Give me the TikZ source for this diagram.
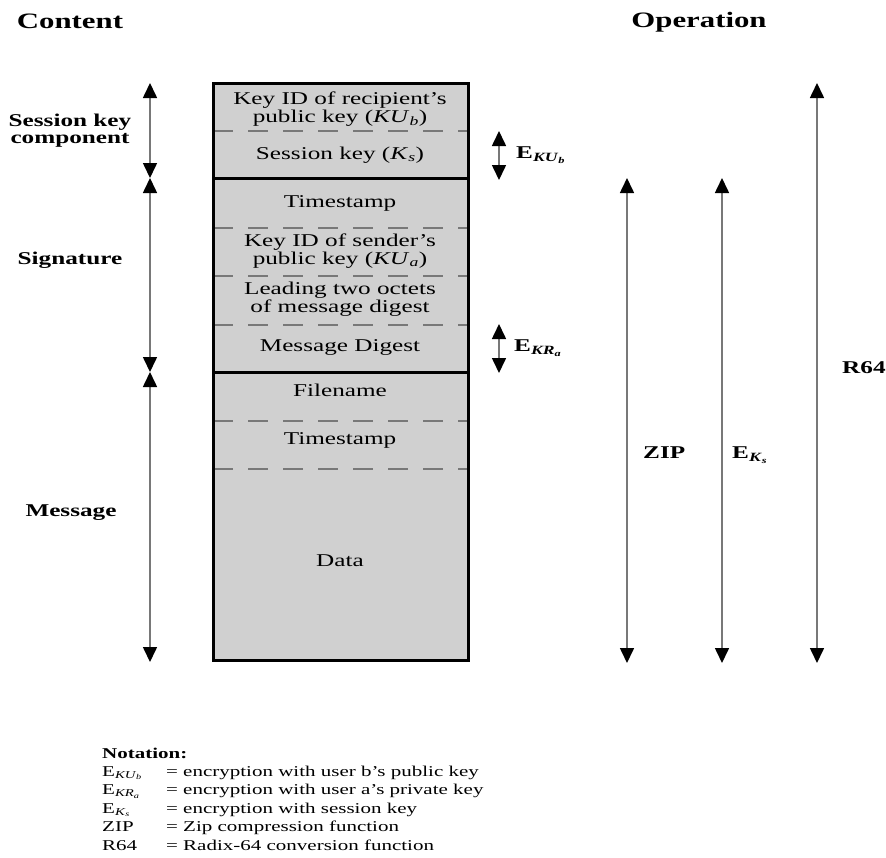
\documentclass[tikz,border=0pt]{standalone}
\usepackage{fontspec}
\setmainfont{Liberation Serif}[FakeStretch=1.4]
\usetikzlibrary{arrows.meta}
\definecolor{boxgray}{RGB}{208,208,208}
\definecolor{linegray}{RGB}{120,120,120}
\newcommand{\fs}[1]{\fontsize{#1}{#1}\selectfont}
\begin{document}
\begin{tikzpicture}[x=1pt,y=-1pt,
  boxtext/.style={font=\fs{18}, align=center, inner sep=0pt, text height=12pt, text depth=4pt},
  boxtwo/.style={font=\fontsize{18}{18}\selectfont, align=center, inner sep=0pt},
  lbl/.style={font=\fontsize{18}{17}\selectfont\bfseries, align=center, inner sep=0pt},
  heading/.style={font=\fs{22}\bfseries, inner sep=0pt},
  nota/.style={font=\fs{15}, anchor=base west, inner sep=0pt},
  notab/.style={font=\fs{15}\bfseries, anchor=base west, inner sep=0pt},
  sep/.style={line width=3pt, black},
  dsep/.style={line width=2pt, linegray, dash pattern=on 20pt off 15pt},
  dimarrow/.style={draw=linegray, line width=1.6pt,
    {Triangle[width=14pt,length=15pt,color=black]}-{Triangle[width=14pt,length=15pt,color=black]}}
]
\useasboundingbox (0,0) rectangle (886,857);

% headings
\node[heading] (hcontent) at (70,21) {Content};
\node[heading] (hop) at (699,22) {Operation};

% the box
\fill[boxgray] (213,83) rectangle (468,660);
\draw[dsep] (213,131) -- (468,131);
\draw[dsep] (213,228) -- (468,228);
\draw[dsep] (213,276) -- (468,276);
\draw[dsep] (213,325) -- (468,325);
\draw[dsep] (213,421) -- (468,421);
\draw[dsep] (213,469) -- (468,469);
\draw[sep] (213,178) -- (468,178);
\draw[sep] (213,372) -- (468,372);
\draw[line width=3pt] (213,83) rectangle (468,660);

% box texts
\node[boxtwo] (t1) at (340,109) {Key ID of recipient's\\public key (\textit{KU}\textsubscript{\textit{b}})};
\node[boxtext] (t2) at (340,155) {Session key (\textit{K}\textsubscript{\textit{s}})};
\node[boxtext] (t3) at (340,203) {Timestamp};
\node[boxtwo] (t4) at (340,251) {Key ID of sender's\\public key (\textit{KU}\textsubscript{\textit{a}})};
\node[boxtwo] (t5) at (340,299) {Leading two octets\\of message digest};
\node[boxtext] (t6) at (340,347) {Message Digest};
\node[boxtext] (t7) at (340,392) {Filename};
\node[boxtext] (t8) at (340,440) {Timestamp};
\node[boxtext] (t9) at (340,562) {Data};

% left labels
\node[lbl] (lsk) at (70,131) {Session key\\component};
\node[lbl] (lsig) at (70,260) {Signature};
\node[lbl] (lmsg) at (71,513) {Message};

% left arrows
\coordinate (la) at (150,83);
\coordinate (lb) at (150,178);
\coordinate (lc) at (150,372);
\coordinate (ld) at (150,662);
\draw[dimarrow] (la) -- (lb);
\draw[dimarrow] (lb) -- (lc);
\draw[dimarrow] (lc) -- (ld);

% small E arrows
\coordinate (e1t) at (499,131);
\coordinate (e1b) at (499,180);
\coordinate (e2t) at (499,324);
\coordinate (e2b) at (499,373);
\draw[dimarrow] (e1t) -- (e1b);
\draw[dimarrow] (e2t) -- (e2b);
\node[lbl, anchor=west] (eku) at (516,155) {E\textsubscript{\textit{KU}\textsubscript{\textit{b}}}};
\node[lbl, anchor=west] (ekr) at (514,348) {E\textsubscript{\textit{KR}\textsubscript{\textit{a}}}};

% right arrows
\coordinate (zt) at (627,178);
\coordinate (zb) at (627,663);
\coordinate (kt) at (722,178);
\coordinate (kb) at (722,663);
\coordinate (rt) at (817,83);
\coordinate (rb) at (817,663);
\draw[dimarrow] (zt) -- (zb);
\draw[dimarrow] (kt) -- (kb);
\draw[dimarrow] (rt) -- (rb);
\node[lbl, anchor=west] (zip) at (643,453) {ZIP};
\node[lbl, anchor=west] (eks) at (732,455) {E\textsubscript{\textit{K}\textsubscript{\textit{s}}}};
\node[lbl, anchor=west] (r64) at (842,368) {R64};

% notation
\node[notab] (n0) at (102,758) {Notation:};
\node[nota] (n1a) at (102,776) {E\textsubscript{\textit{KU}\textsubscript{\textit{b}}}};
\node[nota] (n1b) at (166,776) {=};
\node[nota] (n1c) at (183,776) {encryption with user b's public key};
\node[nota] (n2a) at (102,794.5) {E\textsubscript{\textit{KR}\textsubscript{\textit{a}}}};
\node[nota] (n2b) at (166,794.5) {=};
\node[nota] (n2c) at (183,794.5) {encryption with user a's private key};
\node[nota] (n3a) at (102,813) {E\textsubscript{\textit{K}\textsubscript{\textit{s}}}};
\node[nota] (n3b) at (166,813) {=};
\node[nota] (n3c) at (183,813) {encryption with session key};
\node[nota] (n4a) at (102,831.5) {ZIP};
\node[nota] (n4b) at (166,831.5) {=};
\node[nota] (n4c) at (183,831.5) {Zip compression function};
\node[nota] (n5a) at (102,850) {R64};
\node[nota] (n5b) at (166,850) {=};
\node[nota] (n5c) at (183,850) {Radix-64 conversion function};
\end{tikzpicture}
\end{document}
